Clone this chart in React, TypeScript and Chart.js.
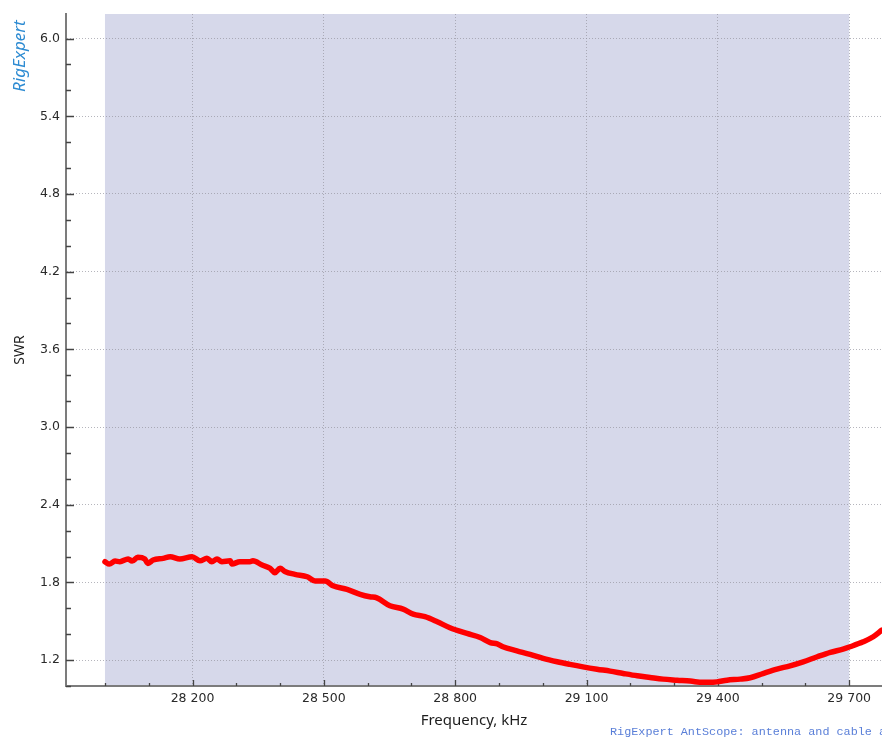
import React, { useEffect, useRef } from 'react';
import { Chart, registerables } from 'chart.js';

Chart.register(...registerables);

// ---- Data ----
const freqKHz = [
  28000, 28010, 28023, 28034, 28053, 28062, 28075, 28091, 28098, 28110,
  28133, 28149, 28171, 28199, 28217, 28233, 28244, 28256, 28267, 28286,
  28290, 28308, 28331, 28338, 28359, 28377, 28388, 28400, 28411, 28434,
  28462, 28480, 28503, 28521, 28553, 28583, 28605, 28621, 28651, 28681,
  28704, 28731, 28759, 28788, 28827, 28857, 28880, 28896, 28909, 28941,
  28971, 29001, 29033, 29062, 29092, 29124, 29154, 29184, 29216, 29245,
  29275, 29307, 29337, 29366, 29382, 29398, 29421, 29451, 29474, 29503,
  29535, 29565, 29595, 29627, 29657, 29686, 29702, 29732, 29755, 29775,
  29800,
];
const swr = [
  1.960, 1.942, 1.965, 1.960, 1.981, 1.965, 1.994, 1.981, 1.947, 1.973,
  1.986, 1.998, 1.981, 1.998, 1.967, 1.986, 1.960, 1.981, 1.960, 1.967,
  1.942, 1.960, 1.960, 1.967, 1.934, 1.909, 1.875, 1.909, 1.885, 1.862,
  1.844, 1.811, 1.811, 1.774, 1.746, 1.708, 1.689, 1.681, 1.620, 1.594,
  1.555, 1.535, 1.496, 1.450, 1.406, 1.375, 1.335, 1.325, 1.303, 1.272,
  1.244, 1.213, 1.187, 1.167, 1.148, 1.130, 1.115, 1.097, 1.079, 1.066,
  1.053, 1.045, 1.038, 1.028, 1.028, 1.032, 1.045, 1.053, 1.064, 1.096,
  1.130, 1.156, 1.187, 1.226, 1.260, 1.285, 1.303, 1.341, 1.380, 1.432,
  1.494,
];

// Band (shaded) limits, kHz
const bandKHz = [28000, 29700];
// Axis ranges
const xRange = [27911, 29775];
const yRange = [1.0, 6.19];
// Tick definitions: [first major, major step, minor step]
const xTickDef = [28200, 300, 100];
const yTickDef = [1.2, 0.6, 0.2];

const footerText = 'RigExpert AntScope: antenna and cable analyzers';
const logoText = 'RigExpert';

const isMajor = (v: number, def: number[]) => {
  if (v < def[0] - 1e-9) return false;
  const k = (v - def[0]) / def[1];
  return Math.abs(k - Math.round(k)) < 1e-6;
};
const fmtKHz = (v: number) =>
  String(Math.round(v)).replace(/\B(?=(\d{3})+(?!\d))/g, ' ');

const GRID_COLOR = 'rgba(150,150,160,0.7)';
const AXIS_COLOR = '#7c7c7c';
const TICK_COLOR = '#444444';
const LABEL_COLOR = '#2a2a2a';
const TICK_FONT = { family: '"DejaVu Sans", "Noto Sans", sans-serif', size: 12.5 };

const bandPlugin = {
  id: 'bandShade',
  beforeDraw(chart: any) {
    const { ctx, chartArea, scales } = chart;
    const x0 = scales.x.getPixelForValue(bandKHz[0]);
    const x1 = scales.x.getPixelForValue(bandKHz[1]);
    ctx.save();
    ctx.fillStyle = 'rgb(214,216,234)';
    ctx.fillRect(x0, chartArea.top, x1 - x0, chartArea.bottom - chartArea.top);
    ctx.restore();
  },
};

const innerTicksPlugin = {
  id: 'innerTicks',
  beforeDatasetsDraw(chart: any) {
    const { ctx, chartArea, scales } = chart;
    ctx.save();
    ctx.strokeStyle = TICK_COLOR;
    ctx.lineWidth = 1.3;
    ctx.beginPath();
    scales.x.ticks.forEach((t: any) => {
      const px = Math.round(scales.x.getPixelForValue(t.value)) + 0.5;
      const len = isMajor(t.value, xTickDef) ? 6 : 3;
      ctx.moveTo(px, chartArea.bottom);
      ctx.lineTo(px, chartArea.bottom - len);
    });
    scales.y.ticks.forEach((t: any) => {
      const py = Math.round(scales.y.getPixelForValue(t.value)) + 0.5;
      const len = isMajor(t.value, yTickDef) ? 8 : 5;
      ctx.moveTo(chartArea.left, py);
      ctx.lineTo(chartArea.left + len, py);
    });
    ctx.stroke();
    ctx.restore();
  },
};

const decorPlugin = {
  id: 'decor',
  afterDraw(chart: any) {
    const { ctx } = chart;
    // rotated logo
    ctx.save();
    ctx.translate(25, 92);
    ctx.rotate(-Math.PI / 2);
    ctx.font = 'italic 17px "Noto Sans", "DejaVu Sans", sans-serif';
    ctx.fillStyle = '#2d8bd2';
    ctx.textAlign = 'left';
    ctx.textBaseline = 'alphabetic';
    ctx.fillText(logoText, 0, 0);
    ctx.restore();
    // footer
    ctx.save();
    ctx.font = '11.8px "Liberation Mono", "DejaVu Sans Mono", monospace';
    ctx.fillStyle = '#5a7fd8';
    ctx.textAlign = 'left';
    ctx.textBaseline = 'alphabetic';
    ctx.fillText(footerText, 610, 735);
    ctx.restore();
  },
};

export default function App() {
  const canvasRef = useRef<HTMLCanvasElement | null>(null);

  useEffect(() => {
    if (!canvasRef.current) return;
    const points = freqKHz.map((f, i) => ({ x: f, y: swr[i] }));
    const chart = new Chart(canvasRef.current, {
      type: 'line',
      data: {
        datasets: [
          {
            data: points,
            borderColor: '#ff0000',
            borderWidth: 5.5,
            pointRadius: 0,
            tension: 0.3,
            cubicInterpolationMode: 'monotone',
            fill: false,
            borderJoinStyle: 'round',
            borderCapStyle: 'round',
          } as any,
        ],
      },
      options: {
        animation: false,
        responsive: false,
        layout: { padding: { top: 14, left: 0, right: 0, bottom: 0 } },
        plugins: {
          legend: { display: false },
          tooltip: { enabled: false },
        },
        scales: {
          x: {
            type: 'linear',
            min: xRange[0],
            max: xRange[1],
            afterFit: (s: any) => {
              s.height = 52;
            },
            ticks: {
              stepSize: xTickDef[2],
              autoSkip: false,
              maxRotation: 0,
              minRotation: 0,
              includeBounds: false,
              padding: 5,
              color: LABEL_COLOR,
              font: TICK_FONT,
              callback: (v: any) => (isMajor(Number(v), xTickDef) ? fmtKHz(Number(v)) : ''),
            },
            grid: {
              drawTicks: false,
              lineWidth: 1,
              color: (c: any) =>
                c.tick && isMajor(c.tick.value, xTickDef) ? GRID_COLOR : 'rgba(0,0,0,0)',
            },
            border: { display: true, color: AXIS_COLOR, width: 2, dash: [1, 2] },
            title: {
              display: true,
              text: 'Frequency, kHz',
              color: '#1e1e1e',
              font: { family: '"Noto Sans", "DejaVu Sans", sans-serif', size: 15 },
              padding: { top: 0, bottom: 8 },
            },
          } as any,
          y: {
            type: 'linear',
            min: yRange[0],
            max: yRange[1],
            afterFit: (s: any) => {
              s.width = 66;
            },
            ticks: {
              stepSize: yTickDef[2],
              autoSkip: false,
              includeBounds: false,
              padding: 6,
              color: LABEL_COLOR,
              font: TICK_FONT,
              callback: (v: any) => (isMajor(Number(v), yTickDef) ? Number(v).toFixed(1) : ''),
            },
            grid: {
              drawTicks: false,
              lineWidth: 1,
              color: (c: any) =>
                c.tick && isMajor(c.tick.value, yTickDef) ? GRID_COLOR : 'rgba(0,0,0,0)',
            },
            border: { display: true, color: AXIS_COLOR, width: 2, dash: [1, 2] },
            title: {
              display: true,
              text: 'SWR',
              color: '#1e1e1e',
              font: { family: '"Noto Sans", "DejaVu Sans", sans-serif', size: 14 },
              padding: { top: 12, bottom: 0 },
            },
          } as any,
        },
      },
      plugins: [bandPlugin, innerTicksPlugin, decorPlugin],
    });
    return () => {
      chart.destroy();
    };
  }, []);

  return (
    <div style={{ position: 'absolute', left: 0, top: 0, width: 882, height: 738, background: '#ffffff' }}>
      <canvas ref={canvasRef} width={882} height={738} style={{ display: 'block' }} />
    </div>
  );
}
